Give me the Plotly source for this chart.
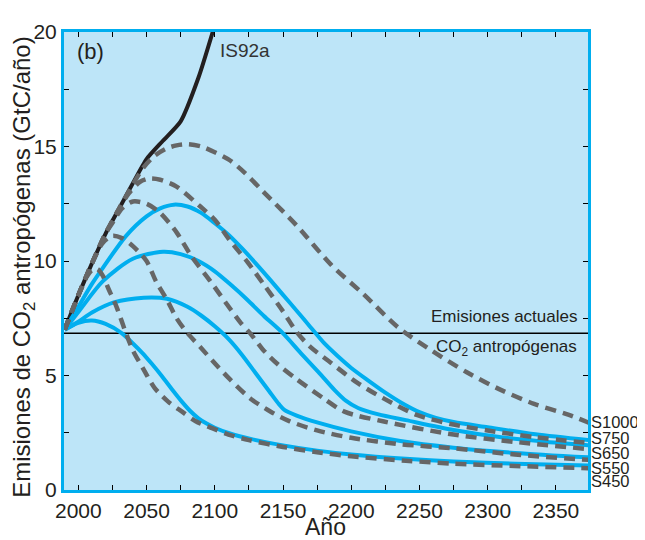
import plotly.graph_objects as go

# ---------------- data ----------------
is92a_years = [1990, 2000, 2010, 2020, 2030, 2040, 2050, 2062, 2075, 2088, 2100]
is92a_vals = [7.0, 8.5, 9.9, 11.2, 12.3, 13.4, 14.45, 15.25, 16.1, 18.0, 20.3]

# solid (blue) profiles
w450_years = [1990, 2000, 2010, 2020, 2032, 2040, 2047, 2054, 2061, 2069, 2076, 2082, 2088, 2094, 2100, 2110, 2127, 2150, 2175, 2200, 2240, 2275, 2320, 2375]
w450_vals = [7.0, 7.3, 7.4, 7.25, 6.84, 6.4, 5.98, 5.5, 4.99, 4.37, 3.85, 3.45, 3.13, 2.9, 2.72, 2.49, 2.22, 1.95, 1.72, 1.55, 1.36, 1.24, 1.15, 1.07]

w550_years = [1990, 2000, 2010, 2026, 2048, 2065, 2080, 2090, 2100, 2110, 2120, 2130, 2140, 2147, 2151, 2160, 2175, 2200, 2236, 2275, 2320, 2375]
w550_vals = [7.0, 7.35, 7.75, 8.19, 8.4, 8.35, 8.0, 7.62, 7.15, 6.6, 5.9, 5.1, 4.3, 3.75, 3.5, 3.25, 2.95, 2.56, 2.14, 1.85, 1.62, 1.42]

w650_years = [1990, 2001, 2018, 2040, 2062, 2075, 2088, 2100, 2112, 2124, 2136, 2150, 2163, 2176, 2188, 2196, 2205, 2220, 2240, 2275, 2310, 2340, 2375]
w650_vals = [7.0, 7.85, 9.12, 10.1, 10.4, 10.3, 10.0, 9.55, 8.95, 8.3, 7.6, 6.84, 5.98, 5.15, 4.35, 3.9, 3.58, 3.3, 3.05, 2.62, 2.3, 2.12, 1.95]

w750_years = [1990, 2000, 2010, 2018, 2035, 2050, 2060, 2070, 2080, 2090, 2100, 2110, 2120, 2130, 2140, 2150, 2160, 2170, 2180, 2190, 2200, 2212, 2225, 2237, 2250, 2262, 2275, 2300, 2335, 2375]
w750_vals = [7.0, 8.0, 9.0, 9.7, 11.1, 11.95, 12.3, 12.46, 12.38, 12.1, 11.65, 11.15, 10.55, 9.9, 9.22, 8.52, 7.83, 7.12, 6.42, 5.85, 5.33, 4.8, 4.25, 3.8, 3.4, 3.15, 2.97, 2.74, 2.43, 2.17]

# dashed (grey) profiles
s450_years = [1990, 2000, 2006, 2010, 2014, 2018, 2022, 2028, 2034, 2040, 2048, 2056, 2066, 2076, 2086, 2098, 2110, 2125, 2150, 2175, 2200, 2240, 2275, 2320, 2375]
s450_vals = [7.0, 8.5, 9.3, 9.6, 9.65, 9.35, 8.8, 8.0, 7.0, 6.1, 5.25, 4.45, 3.85, 3.42, 3.0, 2.7, 2.42, 2.18, 1.88, 1.65, 1.47, 1.28, 1.15, 1.05, 0.95]

s550_years = [1990, 2000, 2010, 2018, 2025, 2032, 2040, 2050, 2057, 2065, 2072, 2080, 2090, 2099, 2111, 2126, 2141, 2155, 2175, 2200, 2236, 2275, 2320, 2375]
s550_vals = [7.0, 8.5, 9.9, 10.8, 11.1, 11.0, 10.65, 10.0, 9.1, 8.3, 7.5, 6.85, 6.2, 5.6, 4.84, 4.0, 3.42, 3.0, 2.6, 2.28, 2.0, 1.82, 1.55, 1.31]

s650_years = [1990, 2000, 2010, 2020, 2026, 2032, 2040, 2050, 2060, 2072, 2083, 2097, 2109, 2119, 2126, 2135, 2146, 2160, 2180, 2195, 2224, 2275, 2320, 2375]
s650_vals = [7.0, 8.5, 9.9, 11.2, 11.75, 12.3, 12.6, 12.5, 12.1, 11.25, 10.2, 9.1, 8.1, 7.3, 6.84, 6.15, 5.5, 4.84, 3.99, 3.42, 2.99, 2.42, 2.1, 1.78]

s750_years = [1990, 2000, 2010, 2020, 2030, 2037, 2045, 2052, 2060, 2072, 2089, 2100, 2111, 2124, 2136, 2150, 2160, 2170, 2185, 2204, 2224, 2248, 2273, 2300, 2335, 2375]
s750_vals = [7.0, 8.5, 9.9, 11.2, 12.3, 12.95, 13.45, 13.6, 13.55, 13.25, 12.4, 11.8, 10.9, 9.95, 8.97, 7.8, 6.9, 6.25, 5.56, 4.7, 3.99, 3.28, 2.88, 2.6, 2.3, 2.05]

s1000_years = [1990, 2000, 2010, 2020, 2030, 2040, 2048, 2056, 2064, 2072, 2080, 2090, 2100, 2111, 2122, 2136, 2160, 2185, 2209, 2234, 2256, 2285, 2310, 2334, 2359, 2375]
s1000_vals = [7.0, 8.5, 9.9, 11.2, 12.3, 13.35, 14.1, 14.6, 14.9, 15.05, 15.1, 15.0, 14.75, 14.4, 13.85, 13.0, 11.55, 9.85, 8.55, 7.12, 6.2, 5.13, 4.36, 3.76, 3.29, 2.92]

current_emissions = 6.84

right_labels = ["S1000", "S750", "S650", "S550", "S450"]
right_label_y = [2.99, 2.26, 1.62, 0.98, 0.38]

# ---------------- styling ----------------
BG = "#bde5f8"
BLUE = "#00aeef"
GREY = "#666666"
FONT = "Liberation Sans, Arial, sans-serif"
TXT = "#231f20"

fig = go.Figure()

fig.add_trace(go.Scatter(x=is92a_years, y=is92a_vals, mode="lines",
                         line=dict(color="#231f20", width=4, shape="spline", smoothing=0.6),
                         showlegend=False, hoverinfo="skip"))

for yrs, vals in [(w450_years, w450_vals), (w550_years, w550_vals),
                  (w650_years, w650_vals), (w750_years, w750_vals)]:
    fig.add_trace(go.Scatter(x=yrs, y=vals, mode="lines",
                             line=dict(color=BLUE, width=4, shape="spline", smoothing=0.8),
                             showlegend=False, hoverinfo="skip"))

for yrs, vals in [(s450_years, s450_vals), (s550_years, s550_vals),
                  (s650_years, s650_vals), (s750_years, s750_vals),
                  (s1000_years, s1000_vals)]:
    fig.add_trace(go.Scatter(x=yrs, y=vals, mode="lines",
                             line=dict(color=GREY, width=4.5, dash="11px,7px",
                                       shape="spline", smoothing=0.8),
                             showlegend=False, hoverinfo="skip"))

fig.add_shape(type="line", xref="paper", yref="y", x0=0, x1=1,
              y0=current_emissions, y1=current_emissions,
              line=dict(color="black", width=1.5), layer="below")

annotations = [
    dict(text="Emisiones de CO<sub>2</sub> antropógenas (GtC/año)", xref="paper", yref="paper",
         x=-0.0765, y=0.487, textangle=-90, showarrow=False,
         font=dict(size=24, family=FONT, color=TXT), xanchor="center", yanchor="middle"),
    dict(text="Año", xref="paper", yref="paper", x=0.499, y=-0.081, showarrow=False,
         font=dict(size=23, family=FONT, color=TXT), xanchor="center", yanchor="middle"),
    dict(text="(b)", xref="paper", yref="paper", x=0.0497, y=0.957, showarrow=False,
         font=dict(size=22, family=FONT, color=TXT), xanchor="center", yanchor="middle"),
    dict(text="IS92a", xref="paper", yref="paper", x=0.346, y=0.959, showarrow=False,
         font=dict(size=19, family=FONT, color="#333333"), xanchor="center", yanchor="middle"),
    dict(text="Emisiones actuales", xref="paper", yref="y", x=0.983, y=7.56, showarrow=False,
         font=dict(size=17, family=FONT, color=TXT), xanchor="right", yanchor="middle"),
    dict(text="CO<sub>2</sub> antropógenas", xref="paper", yref="y", x=0.983, y=6.2, showarrow=False,
         font=dict(size=17, family=FONT, color=TXT), xanchor="right", yanchor="middle"),
]
for lab, yv in zip(right_labels, right_label_y):
    annotations.append(dict(text=lab, xref="paper", yref="y", x=1.003, y=yv, showarrow=False,
                            font=dict(size=16.5, family=FONT, color=TXT),
                            xanchor="left", yanchor="middle", borderpad=0))

# the page body adds an 8px offset, so margins are shifted to compensate
fig.update_layout(
    width=645, height=540,
    margin=dict(l=56, r=65, t=14, b=58),
    paper_bgcolor="white", plot_bgcolor=BG,
    annotations=annotations,
    xaxis=dict(range=[1989.5, 2373.5], tick0=2000, dtick=50,
               ticks="inside", ticklen=5, tickwidth=1, tickcolor="black",
               minor=dict(dtick=25, tick0=2000, ticks="inside", ticklen=5, tickwidth=1, tickcolor="black"),
               showline=True, linecolor=BLUE, linewidth=3, mirror="allticks",
               showgrid=False, zeroline=False,
               tickfont=dict(size=21, family=FONT, color=TXT)),
    yaxis=dict(range=[0, 20], tick0=0, dtick=5,
               ticks="inside", ticklen=5, tickwidth=1, tickcolor="black",
               minor=dict(dtick=2.5, tick0=0, ticks="inside", ticklen=5, tickwidth=1, tickcolor="black"),
               showline=True, linecolor=BLUE, linewidth=3, mirror="allticks",
               showgrid=False, zeroline=False,
               tickfont=dict(size=21, family=FONT, color=TXT)),
)

fig.write_html("out.html")
